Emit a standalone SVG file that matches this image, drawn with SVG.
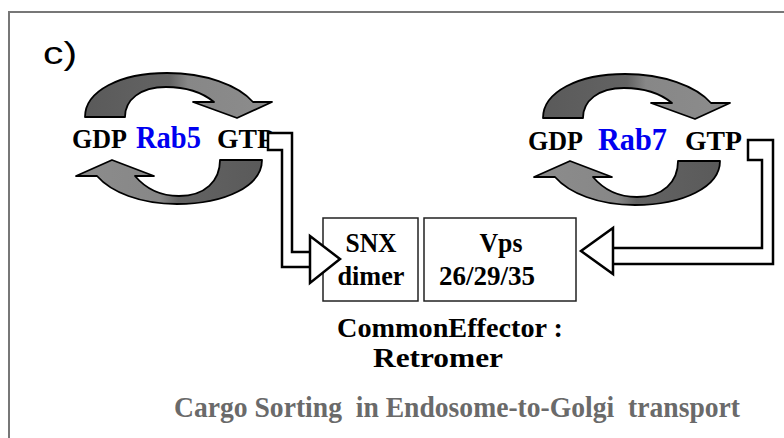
<svg xmlns="http://www.w3.org/2000/svg" width="784" height="438" viewBox="0 0 784 438">
<defs>
<style>
.t{font-family:"Liberation Serif","Times New Roman",serif;font-weight:bold;fill:#000}
.blue{fill:#0000f0}
.gray{fill:#6a6a6a}
.box{fill:#fff;stroke:#222;stroke-width:1.5}
.band{fill:#fff;stroke:#000;stroke-width:2.5;stroke-linejoin:miter}
.head{fill:#fff;stroke:#000;stroke-width:2.5;stroke-linejoin:miter}
.arc{stroke:#000;stroke-width:1.8;stroke-linejoin:round}
</style>
<linearGradient id="gTop" x1="85" y1="0" x2="272" y2="0" gradientUnits="userSpaceOnUse">
<stop offset="0" stop-color="#5a5a5a"/>
<stop offset="0.45" stop-color="#636363"/>
<stop offset="0.55" stop-color="#878787"/>
<stop offset="1" stop-color="#8c8c8c"/>
</linearGradient>
<linearGradient id="gBot" x1="262" y1="0" x2="76" y2="0" gradientUnits="userSpaceOnUse">
<stop offset="0" stop-color="#5a5a5a"/>
<stop offset="0.45" stop-color="#636363"/>
<stop offset="0.55" stop-color="#878787"/>
<stop offset="1" stop-color="#8c8c8c"/>
</linearGradient>
<g id="cycle">
<path class="arc" fill="url(#gTop)" d="M85,117 C85,91 120,73 167,73 C205,73 238,85 253,102 L272,102 L237,118 L193,102 L214,102 C203,93 186,87 166,87 C140,87 125,100 125,117 Z"/>
<path class="arc" fill="url(#gBot)" d="M262,160 C262,186 225,204 177,204 C140,204 111,192 97,176 L76,176 L112,160 L154,176 L135,176 C146,189 161,196 179,196 C205,196 220,181 220,160 Z"/>
</g>
</defs>

<path d="M9,438 V12 H784" fill="none" stroke="#777" stroke-width="2"/>

<text x="43" y="64" font-family="'Liberation Sans',Arial,sans-serif" font-size="32" fill="#000" textLength="34" lengthAdjust="spacingAndGlyphs">c)</text>

<g id="rab5">
<use href="#cycle"/>
<text class="t" x="72" y="148" font-size="28" textLength="55" lengthAdjust="spacingAndGlyphs">GDP</text>
<text class="t blue" x="136" y="148" font-size="31" textLength="65" lengthAdjust="spacingAndGlyphs">Rab5</text>
<text class="t" x="217" y="148" font-size="28" textLength="57" lengthAdjust="spacingAndGlyphs">GTP</text>
</g>

<g id="rab7">
<use href="#cycle" transform="translate(458,1)"/>
<text class="t" x="528" y="150" font-size="28" textLength="55" lengthAdjust="spacingAndGlyphs">GDP</text>
<text class="t blue" x="598" y="150" font-size="31" textLength="69" lengthAdjust="spacingAndGlyphs">Rab7</text>
<text class="t" x="685" y="150" font-size="28" textLength="57" lengthAdjust="spacingAndGlyphs">GTP</text>
</g>

<g id="snx">
<rect class="box" x="323" y="218" width="95" height="83"/>
<text class="t" x="371" y="252" font-size="27" text-anchor="middle" textLength="51" lengthAdjust="spacingAndGlyphs">SNX</text>
<text class="t" x="371" y="285" font-size="27" text-anchor="middle" textLength="67" lengthAdjust="spacingAndGlyphs">dimer</text>
</g>

<g id="vps">
<rect class="box" x="424" y="218" width="152" height="83"/>
<text class="t" x="501" y="252" font-size="27" text-anchor="middle" textLength="43" lengthAdjust="spacingAndGlyphs">Vps</text>
<text class="t" x="487" y="285" font-size="27" text-anchor="middle" textLength="96" lengthAdjust="spacingAndGlyphs">26/29/35</text>
</g>

<g id="connectors">
<polygon class="band" points="268,133 292,133 292,252 312,252 312,267 282,267 282,150 268,150"/>
<polygon class="head" points="310,236 310,283 340,259"/>
<polygon class="band" points="748,140 773,140 773,264 611,264 611,248 762,248 762,160 748,160"/>
<polygon class="head" points="613,228 613,274 581,251"/>
</g>

<g id="labels">
<text class="t" x="450" y="337" font-size="28" text-anchor="middle" textLength="226" lengthAdjust="spacingAndGlyphs">CommonEffector :</text>
<text class="t" x="438" y="367" font-size="28" text-anchor="middle" textLength="130" lengthAdjust="spacingAndGlyphs">Retromer</text>
<text class="t gray" x="457" y="417" font-size="30" text-anchor="middle" textLength="566" lengthAdjust="spacingAndGlyphs" xml:space="preserve">Cargo Sorting  in Endosome-to-Golgi  transport</text>
</g>
</svg>
